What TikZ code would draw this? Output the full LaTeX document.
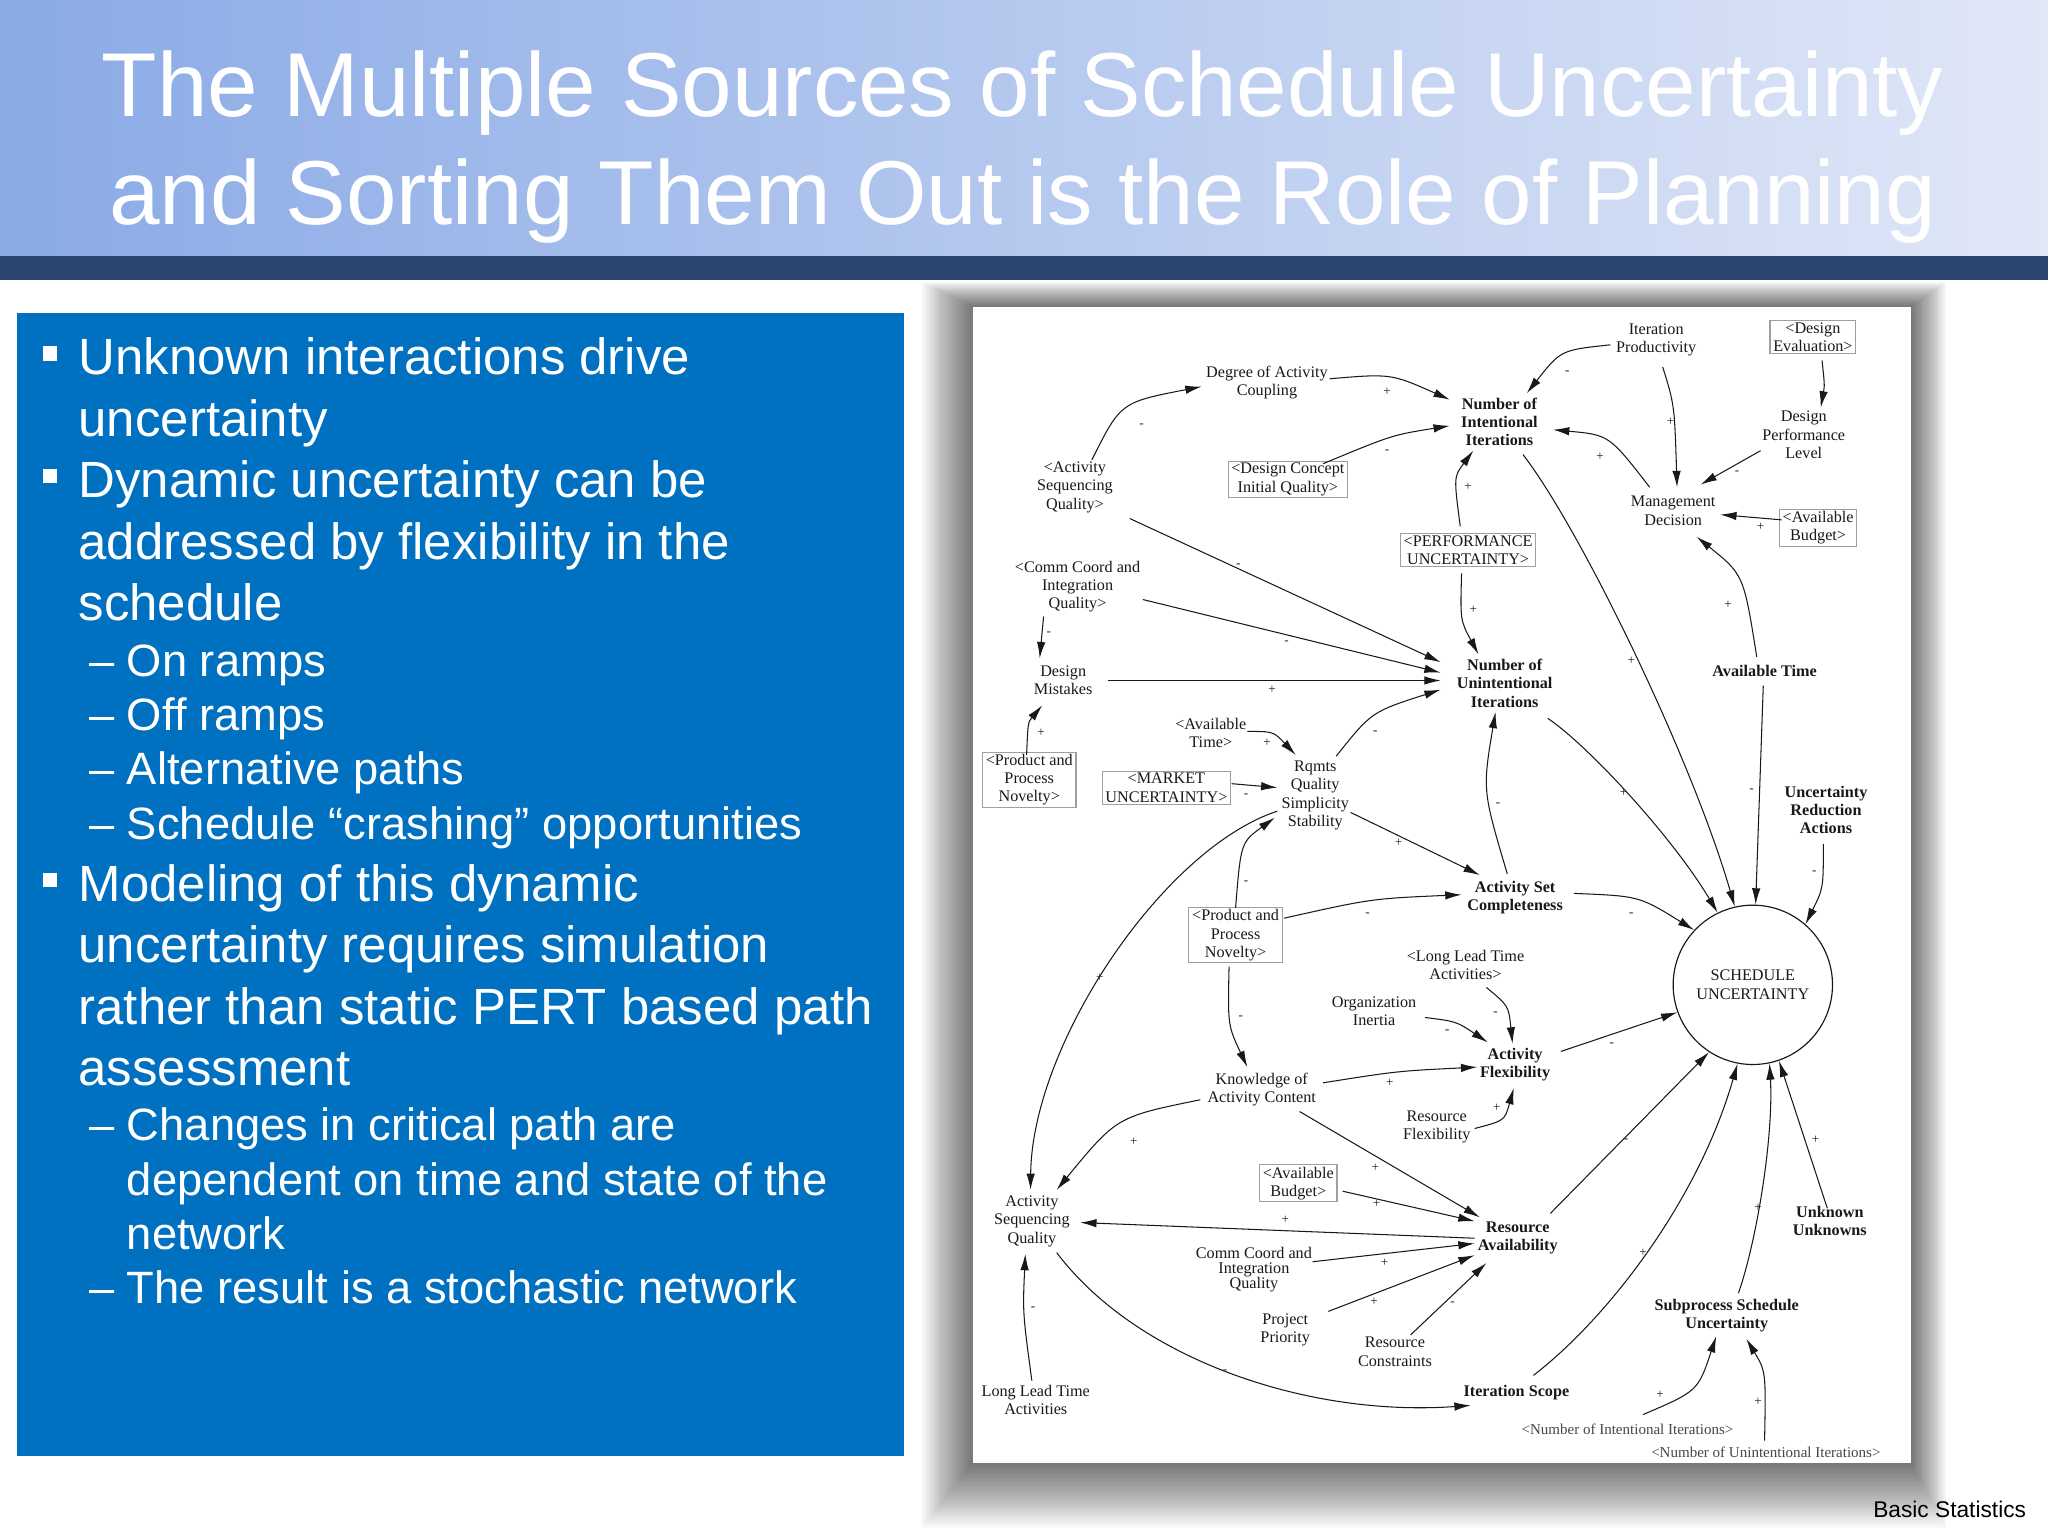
\documentclass[tikz,border=0pt]{standalone}
\usepackage{fontspec}
\setmainfont{Liberation Sans}
\newfontfamily\dfont{Liberation Serif}
\usetikzlibrary{arrows.meta,calc,shapes.geometric}
\definecolor{titleL}{RGB}{138,170,230}
\definecolor{titleR}{RGB}{224,231,247}
\definecolor{barblue}{RGB}{43,71,111}
\definecolor{boxblue}{RGB}{0,112,192}
\definecolor{ink}{RGB}{25,25,25}
\begin{document}
\begin{tikzpicture}[x=1pt,y=-1pt,
  dn/.style={font=\dfont\fontsize{12.4}{14}\selectfont, align=center, inner sep=1pt, text=ink},
  dnb/.style={dn, font=\dfont\bfseries\fontsize{12.4}{14}\selectfont},
  bx/.style={dn, draw=gray!75, line width=0.8pt, inner xsep=2.5pt, inner ysep=1.5pt},
  arr/.style={draw=ink, line width=0.8pt, -{Latex[length=12.5pt,width=6.5pt]}},
  pol/.style={font=\dfont\fontsize{10}{10}\selectfont, inner sep=0pt, text=ink},
  bul/.style={font=\fontsize{39}{47}\selectfont, text=white, anchor=base west, inner sep=0pt},
  sub/.style={font=\fontsize{34.7}{42}\selectfont, text=white, anchor=base west, inner sep=0pt},
  ttl/.style={font=\fontsize{69.5}{83}\selectfont, text=white, anchor=base, inner sep=0pt},
]
\useasboundingbox (0,0) rectangle (1568,1176);
\fill[white] (0,0) rectangle (1568,1176);
% panel shadow
\foreach \i in {1,...,40}{\fill[black,opacity=0.016] (745-1.0*\i,235-0.48*\i) rectangle (1463+0.68*\i,1120+1.25*\i);}
% title band
\shade[left color=titleL, right color=titleR] (0,0) rectangle (1568,196);
\fill[barblue] (0,196) rectangle (1568,214);
\node[ttl] (t1) at (783,89) {The Multiple Sources of Schedule Uncertainty};
\node[ttl] (t2) at (783,172) {and Sorting Them Out is the Role of Planning};
% left blue box
\fill[boxblue] (13,240) rectangle (692,1115);
\foreach \yb in {287,381,690}{\fill[white] (33,\yb-22) rectangle (44,\yb-11);}
\node[bul] (b1) at (60,287) {Unknown interactions drive};
\node[bul] (b2) at (60,334) {uncertainty};
\node[bul] (b3) at (60,381) {Dynamic uncertainty can be};
\node[bul] (b4) at (60,428) {addressed by flexibility in the};
\node[bul] (b5) at (60,475) {schedule};
\node[sub] (d1) at (68,518) {–};
\node[sub] (s1) at (97,518) {On ramps};
\node[sub] (d2) at (68,559) {–};
\node[sub] (s2) at (97,559) {Off ramps};
\node[sub] (d3) at (68,601) {–};
\node[sub] (s3) at (97,601) {Alternative paths};
\node[sub] (d4) at (68,643) {–};
\node[sub] (s4) at (97,643) {Schedule “crashing” opportunities};
\node[bul] (b6) at (60,690) {Modeling of this dynamic};
\node[bul] (b7) at (60,737) {uncertainty requires simulation};
\node[bul] (b8) at (60,784) {rather than static PERT based path};
\node[bul] (b9) at (60,831) {assessment};
\node[sub] (d5) at (68,873) {–};
\node[sub] (s5) at (97,873) {Changes in critical path are};
\node[sub] (s6) at (97,915) {dependent on time and state of the};
\node[sub] (s7) at (97,957) {network};
\node[sub] (d6) at (68,998) {–};
\node[sub] (s8) at (97,998) {The result is a stochastic network};
\node[font=\fontsize{17.4}{20}\selectfont, anchor=base west, inner sep=0pt] (foot) at (1434,1162) {Basic Statistics};
% panel
\fill[white] (745,235) rectangle (1463,1120);
% nodes
\node[dn] (dac) at (970,293) {Degree of Activity\\Coupling};
\node[dnb] (nii) at (1148,323) {Number of\\Intentional\\Iterations};
\node[dn] (ip) at (1268,260) {Iteration\\Productivity};
\node[bx] (dev) at (1388,258) {<Design\\Evaluation>};
\node[dn] (dpl) at (1381,333) {Design\\Performance\\Level};
\node[dn] (md) at (1281,391) {Management\\Decision};
\node[bx] (avb1) at (1392,404) {<Available\\Budget>};
\node[dn] (asq1) at (823,373) {<Activity\\Sequencing\\Quality>};
\node[bx] (dci) at (986,367) {<Design Concept\\Initial Quality>};
\node[bx] (pu) at (1124,421) {<PERFORMANCE\\UNCERTAINTY>};
\node[dn] (cci1) at (825,449) {<Comm Coord and\\Integration\\Quality>};
\node[dnb] (nui) at (1152,523) {Number of\\Unintentional\\Iterations};
\node[dnb] (atime) at (1351,514) {Available Time};
\node[dn] (dm) at (814,521) {Design\\Mistakes};
\node[dn] (avt) at (927,561) {<Available\\Time>};
\node[bx] (ppn1) at (788,597) {<Product and\\Process\\Novelty>};
\node[bx] (mu) at (893,603) {<MARKET\\UNCERTAINTY>};
\node[dn] (rq) at (1007,609) {Rqmts\\Quality\\Simplicity\\Stability};
\node[dnb] (ura) at (1398,620) {Uncertainty\\Reduction\\Actions};
\node[dnb] (asc) at (1160,687) {Activity Set\\Completeness};
\node[bx] (ppn2) at (946,716) {<Product and\\Process\\Novelty>};
\node[dn, circle, draw=ink, line width=0.9pt, minimum size=122pt, inner sep=0pt] (su) at (1342,754) {SCHEDULE\\UNCERTAINTY};
\node[dn] (llt1) at (1122,739) {<Long Lead Time\\Activities>};
\node[dn] (oi) at (1052,774) {Organization\\Inertia};
\node[dnb] (af) at (1160,815) {Activity\\Flexibility};
\node[dn] (kac) at (966,834) {Knowledge of\\Activity Content};
\node[dn] (rf) at (1100,863) {Resource\\Flexibility};
\node[bx] (avb2) at (994,906) {<Available\\Budget>};
\node[dn] (asq2) at (790,935) {Activity\\Sequencing\\Quality};
\node[dnb] (ra) at (1162,948) {Resource\\Availability};
\node[dnb] (uu) at (1401,935) {Unknown\\Unknowns};
\node[dn, font=\dfont\fontsize{12.4}{11.5}\selectfont] (cci2) at (960,972) {Comm Coord and\\Integration\\Quality};
\node[dn] (pp) at (984,1018) {Project\\Priority};
\node[dn] (rc) at (1068,1035) {Resource\\Constraints};
\node[dnb] (sps) at (1322,1007) {Subprocess Schedule\\Uncertainty};
\node[dn] (llt2) at (793,1072) {Long Lead Time\\Activities};
\node[dnb] (isc) at (1161,1066) {Iteration Scope};
\node[dn, text=gray!55!black, font=\dfont\fontsize{11.5}{14}\selectfont] (nii2) at (1246,1094) {<Number of Intentional Iterations>};
\node[dn, text=gray!55!black, font=\dfont\fontsize{11.5}{14}\selectfont] (nui2) at (1352,1112) {<Number of Unintentional Iterations>};
% edges
\draw[arr] ($(asq1)+(13,-21)$) .. controls (858,308) .. ($(dac)+(-50,3)$);
\draw[arr] ($(dac)+(48,-3)$) .. controls (1065,286) .. ($(nii)+(-38,-17)$);
\draw[arr] ($(dci)+(27,-12)$) .. controls (1066,333) .. ($(nii)+(-38,3)$);
\draw[arr] ($(ip)+(-35,4)$) .. controls (1195,268) .. ($(nii)+(21,-22)$);
\draw[arr] ($(md)+(-18,-18)$) .. controls (1232,333) .. ($(nii)+(41,6)$);
\draw[arr] ($(pu)+(-6,-18)$) .. controls (1113,365) .. ($(nii)+(-20,22)$);
\draw[arr] ($(pu)+(-5,18)$) .. controls (1118,475) .. ($(nui)+(-20,-22)$);
\draw[arr] ($(nii)+(18,25)$) .. controls (1210,405) and (1295,580) .. (su.103);
\draw[arr] ($(nui)+(33,27)$) .. controls (1215,570) and (1280,640) .. (su.116);
\draw[arr] ($(atime)+(-1,11)$) -- (su.88);
\draw[arr] ($(ura)+(-2,26)$) .. controls (1396,680) .. (su.49);
\draw[arr] ($(asc)+(45,-3)$) .. controls (1255,686) .. (su.137);
\draw[arr] ($(af)+(35,-10)$) -- (su.200);
\draw[arr] ($(ra)+(25,-19)$) -- (su.-123);
\draw[arr] ($(isc)+(13,-13)$) .. controls (1230,1010) and (1300,920) .. (su.-101);
\draw[arr] ($(sps)+(9,-17)$) .. controls (1345,950) and (1358,870) .. (su.-78);
\draw[arr] ($(uu)+(-2,-10)$) -- (su.-71);
\draw[arr] ($(nii2)+(12,-11)$) .. controls (1300,1065) .. ($(sps)+(-8,16)$);
\draw[arr] ($(nui2)+(-1,-9)$) .. controls (1352,1050) .. ($(sps)+(15,18)$);
\draw[arr] ($(atime)+(-6,-11)$) .. controls (1335,440) .. ($(md)+(18,20)$);
\draw[arr] ($(avb1)+(-28,-6)$) -- ($(md)+(36,3)$);
\draw[arr] ($(dpl)+(-33,12)$) -- ($(md)+(21,-20)$);
\draw[arr] ($(dev)+(7,18)$) .. controls (1397,295) .. ($(dpl)+(13,-21)$);
\draw[arr] ($(ip)+(5,21)$) .. controls (1282,310) .. ($(md)+(3,-18)$);
\draw[arr] ($(cci1)+(-26,23)$) -- ($(dm)+(-18,-17)$);
\draw[arr] ($(asq1)+(42,24)$) -- ($(nui)+(-49,-16)$);
\draw[arr] ($(cci1)+(50,10)$) -- ($(nui)+(-49,-8)$);
\draw[arr] ($(dm)+(34,0)$) -- ($(nui)+(-49,-2)$);
\draw[arr] ($(rq)+(16,-30)$) .. controls (1050,545) .. ($(nui)+(-49,5)$);
\draw[arr] ($(ppn1)+(-2,-19)$) .. controls (787,553) .. ($(dm)+(-16,19)$);
\draw[arr] ($(avt)+(28,-1)$) .. controls (975,560) .. ($(rq)+(-15,-31)$);
\draw[arr] ($(mu)+(50,-3)$) -- ($(rq)+(-29,-6)$);
\draw[arr] ($(ppn2)+(0,-21)$) .. controls (950,645) .. ($(rq)+(-31,17)$);
\draw[arr] ($(rq)+(-29,12)$) .. controls (890,650) and (790,800) .. ($(asq2)+(-1,-24)$);
\draw[arr] ($(rq)+(27,13)$) -- ($(asc)+(-27,-17)$);
\draw[arr] ($(ppn2)+(37,-13)$) .. controls (1050,688) .. ($(asc)+(-41,-2)$);
\draw[arr] ($(asc)+(-6,-18)$) .. controls (1135,605) .. ($(nui)+(-7,22)$);
\draw[arr] ($(ppn2)+(-5,24)$) .. controls (940,785) .. ($(kac)+(-11,-17)$);
\draw[arr] ($(llt1)+(16,17)$) .. controls (1155,770) .. ($(af)+(-2,-16)$);
\draw[arr] ($(oi)+(39,5)$) .. controls (1115,782) .. ($(af)+(-21,-17)$);
\draw[arr] ($(kac)+(47,-5)$) .. controls (1070,820) .. ($(af)+(-29,2)$);
\draw[arr] ($(rf)+(29,1)$) .. controls (1152,858) .. ($(af)+(-1,18)$);
\draw[arr] ($(kac)+(-47,8)$) .. controls (855,855) .. ($(asq2)+(19,-24)$);
\draw[arr] ($(kac)+(29,17)$) -- ($(ra)+(-29,-16)$);
\draw[arr] ($(avb2)+(34,6)$) -- ($(ra)+(-33,-13)$);
\draw[arr] ($(ra)+(-33,0)$) -- ($(asq2)+(37,1)$);
\draw[arr] ($(cci2)+(45,-6)$) -- ($(ra)+(-33,4)$);
\draw[arr] ($(pp)+(33,-14)$) -- ($(ra)+(-33,13)$);
\draw[arr] ($(rc)+(12,-13)$) -- ($(ra)+(-24,19)$);
\draw[arr] ($(llt2)+(-3,-15)$) .. controls (783,1005) .. ($(asq2)+(-5,25)$);
\draw[arr] ($(asq2)+(19,24)$) .. controls (870,1040) and (1000,1085) .. ($(isc)+(-35,10)$);
% polarity labels
\node[pol] (p1) at (874,326) {-};
\node[pol] (p2) at (1062,300) {+};
\node[pol] (p3) at (1062,346) {-};
\node[pol] (p4) at (1200,285) {-};
\node[pol] (p5) at (1225,350) {+};
\node[pol] (p6) at (1124,373) {+};
\node[pol] (p7) at (1128,467) {+};
\node[pol] (p8) at (1249,506) {+};
\node[pol] (p9) at (1243,607) {+};
\node[pol] (p10) at (1389,668) {-};
\node[pol] (p11) at (1249,700) {-};
\node[pol] (p12) at (1234,800) {-};
\node[pol] (p13) at (1245,873) {-};
\node[pol] (p14) at (1258,959) {+};
\node[pol] (p15) at (1346,925) {+};
\node[pol] (p16) at (1390,873) {+};
\node[pol] (p17) at (1271,1068) {+};
\node[pol] (p18) at (1346,1073) {+};
\node[pol] (p19) at (1323,463) {+};
\node[pol] (p20) at (1348,403) {+};
\node[pol] (p21) at (1330,362) {-};
\node[pol] (p23) at (1279,323) {+};
\node[pol] (p24) at (803,485) {-};
\node[pol] (p25) at (948,433) {-};
\node[pol] (p26) at (985,492) {-};
\node[pol] (p27) at (974,528) {+};
\node[pol] (p28) at (1053,561) {-};
\node[pol] (p29) at (797,561) {+};
\node[pol] (p30) at (970,569) {+};
\node[pol] (p31) at (954,609) {-};
\node[pol] (p32) at (954,676) {-};
\node[pol] (p33) at (842,749) {+};
\node[pol] (p34) at (1071,645) {+};
\node[pol] (p35) at (1047,700) {-};
\node[pol] (p36) at (1147,616) {-};
\node[pol] (p37) at (950,779) {-};
\node[pol] (p38) at (1145,776) {-};
\node[pol] (p39) at (1108,790) {-};
\node[pol] (p40) at (1064,829) {+};
\node[pol] (p41) at (1146,848) {+};
\node[pol] (p42) at (868,874) {+};
\node[pol] (p43) at (1053,894) {+};
\node[pol] (p44) at (1054,922) {+};
\node[pol] (p45) at (984,934) {+};
\node[pol] (p46) at (1060,967) {+};
\node[pol] (p47) at (1052,997) {+};
\node[pol] (p48) at (1112,998) {-};
\node[pol] (p49) at (791,1002) {-};
\node[pol] (p50) at (938,1050) {-};
\node[pol] (pat) at (1341,605) {-};
\end{tikzpicture}
\end{document}
